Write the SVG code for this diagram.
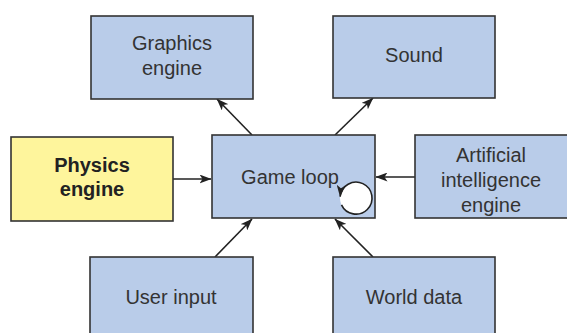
<svg xmlns="http://www.w3.org/2000/svg" width="567" height="333" viewBox="0 0 567 333">
<style>
.box{fill:#B9CCE9;stroke:#333;stroke-width:1.6}
.yel{fill:#FEF59C;stroke:#333;stroke-width:1.6}
.t{font-family:"Liberation Sans",Arial,sans-serif;font-size:20px;fill:#333;text-anchor:middle}
.b{font-weight:bold;fill:#222}
.c{stroke:#222;stroke-width:1.6;fill:none;marker-end:url(#ah)}
</style>
<defs>
<marker id="ah" viewBox="0 0 12 9" refX="11.5" refY="4.5" markerWidth="12" markerHeight="9" markerUnits="userSpaceOnUse" orient="auto">
<path d="M0,0 L12,4.5 L0,9 L3,4.5 Z" fill="#222"/>
</marker>
</defs>
<rect width="567" height="333" fill="#fff"/>
<g id="connectors">
<line class="c" x1="252" y1="135" x2="217" y2="99"/>
<line class="c" x1="335" y1="135" x2="373" y2="98"/>
<line class="c" x1="173" y1="179" x2="211" y2="179"/>
<line class="c" x1="415" y1="177" x2="376" y2="177"/>
<line class="c" x1="215" y1="257" x2="252" y2="219"/>
<line class="c" x1="373" y1="257" x2="335" y2="219"/>
</g>
<g id="graphics"><rect class="box" x="91" y="16" width="162" height="83"/><text class="t" x="172" y="50">Graphics</text><text class="t" x="172" y="75">engine</text></g>
<g id="sound"><rect class="box" x="333" y="16" width="162" height="82"/><text class="t" x="414" y="62">Sound</text></g>
<g id="physics"><rect class="yel" x="11" y="137" width="162" height="84"/><text class="t b" x="92" y="172">Physics</text><text class="t b" x="92" y="196">engine</text></g>
<g id="gameloop"><rect class="box" x="212" y="135" width="163" height="83"/><text class="t" x="290" y="184">Game loop</text>
<circle cx="356" cy="198" r="16" fill="#fff"/>
<path class="c" d="M 341.5,204.8 A 16,16 0 1 0 340.1,196.6"/>
</g>
<g id="ai"><rect class="box" x="415" y="135" width="155" height="83"/><text class="t" x="491" y="162">Artificial</text><text class="t" x="491" y="187">intelligence</text><text class="t" x="491" y="212">engine</text></g>
<g id="userinput"><rect class="box" x="90" y="257" width="163" height="80"/><text class="t" x="171" y="304">User input</text></g>
<g id="worlddata"><rect class="box" x="333" y="257" width="162" height="80"/><text class="t" x="414" y="304">World data</text></g>
</svg>
